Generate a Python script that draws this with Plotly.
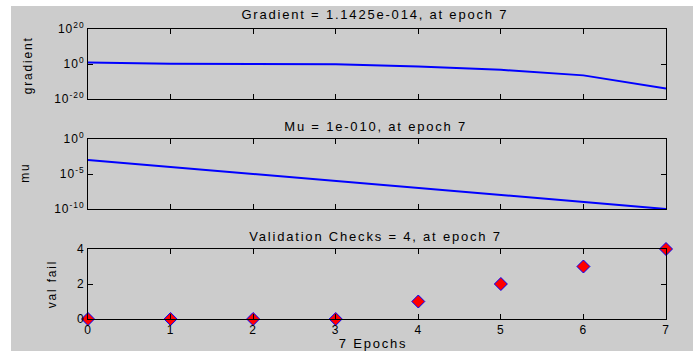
import plotly.graph_objects as go

# ---- data ----
epochs = [0, 1, 2, 3, 4, 5, 6, 7]
gradient = [7.9, 1.6, 1.0, 0.63, 0.04, 5.0e-4, 3.2e-7, 1.1425e-14]
mu = [1e-3, 1e-4, 1e-5, 1e-6, 1e-7, 1e-8, 1e-9, 1e-10]
val_fail = [0, 0, 0, 0, 1, 2, 3, 4]

titles = ["Gradient = 1.1425e-014, at epoch 7",
          "Mu = 1e-010, at epoch 7",
          "Validation Checks = 4, at epoch 7"]
ylabels = ["gradient", "mu", "val fail"]
xlabel = "7 Epochs"
grad_ticks = [1e-20, 1, 1e20]
grad_ticktext = ["10<sup>-20</sup>", "10<sup>0</sup>", "10<sup>20</sup>"]
mu_ticks = [1e-10, 1e-5, 1]
mu_ticktext = ["10<sup>-10</sup>", "10<sup>-5</sup>", "10<sup>0</sup>"]
vf_ticks = [0, 2, 4]

# ---- layout constants (pixels) ----
W, H = 693, 351
L, R, T, B = 88, 666, 29, 319
panels_px = [(29, 99), (139, 209), (249, 319)]
ph = B - T
FONT = "Liberation Sans, Arial, sans-serif"
BG = "rgb(204,204,204)"


def py(ypx):
    return (B - ypx) / ph


def px(xpx):
    return (xpx - L) / (R - L)


fig = go.Figure()
fig.add_trace(go.Scatter(x=epochs, y=gradient, mode="lines",
                         line=dict(color="rgb(0,0,255)", width=2),
                         xaxis="x", yaxis="y", showlegend=False))
fig.add_trace(go.Scatter(x=epochs, y=mu, mode="lines",
                         line=dict(color="rgb(0,0,255)", width=2),
                         xaxis="x2", yaxis="y2", showlegend=False))
fig.add_trace(go.Scatter(x=epochs, y=val_fail, mode="markers",
                         marker=dict(symbol="diamond", size=10, color="red",
                                     line=dict(color="rgb(0,0,255)", width=1)),
                         cliponaxis=False,
                         xaxis="x3", yaxis="y3", showlegend=False))

axis_common = dict(showline=True, linecolor="black", linewidth=1, mirror="ticks",
                   ticks="inside", ticklen=5, tickcolor="black", showgrid=False,
                   zeroline=False, tickfont=dict(family=FONT, size=12, color="black"))

layout = dict(width=W, height=H,
              margin=dict(l=L, r=W - R, t=T, b=H - B, pad=0),
              paper_bgcolor="white", plot_bgcolor="white",
              font=dict(family=FONT, size=13, color="black"))

for i, (t, b) in enumerate(panels_px):
    n = "" if i == 0 else str(i + 1)
    layout["xaxis" + n] = dict(axis_common, domain=[0, 1], range=[0, 7],
                               tickvals=epochs, anchor="y" + n,
                               showticklabels=(i == 2))
    layout["yaxis" + n] = dict(axis_common, domain=[py(b), py(t)], anchor="x" + n)

layout["yaxis"].update(type="log", range=[-20, 20], tickvals=grad_ticks,
                       ticktext=grad_ticktext)
layout["yaxis2"].update(type="log", range=[-10, 0], tickvals=mu_ticks,
                        ticktext=mu_ticktext)
layout["yaxis3"].update(range=[0, 4], tickvals=vf_ticks)

fig.update_layout(**layout)

# grey figure background
fig.add_shape(type="rect", xref="paper", yref="paper", layer="below",
              x0=px(11), x1=px(W + 5), y0=py(H + 5), y1=py(6),
              fillcolor=BG, line=dict(width=0))

title_y = [14, 126, 236]
for txt, ty in zip(titles, title_y):
    fig.add_annotation(text=txt, xref="paper", yref="paper", x=px(375), y=py(ty),
                       showarrow=False, xanchor="center", yanchor="middle",
                       font=dict(family=FONT, size=13, color="black"))

ylab_pos = [(28, 65), (25, 173), (52, 284)]
for txt, (lx, ly) in zip(ylabels, ylab_pos):
    fig.add_annotation(text=txt, xref="paper", yref="paper", x=px(lx), y=py(ly),
                       showarrow=False, xanchor="center", yanchor="middle",
                       textangle=-90,
                       font=dict(family=FONT, size=12, color="black"))

fig.add_annotation(text=xlabel, xref="paper", yref="paper", x=px(373), y=py(343),
                   showarrow=False, xanchor="center", yanchor="middle",
                   font=dict(family=FONT, size=13, color="black"))

post = ("document.querySelectorAll('.main-svg .annotation-text').forEach(function(t){"
        "t.style.letterSpacing='1.8px';});"
        "document.querySelectorAll('.main-svg .xtick text, .main-svg .ytick text, "
        ".main-svg .y2tick text, .main-svg .y3tick text, .main-svg .x3tick text')"
        ".forEach(function(t){t.style.letterSpacing='1px';});")
fig.write_html("out.html", post_script=post)
